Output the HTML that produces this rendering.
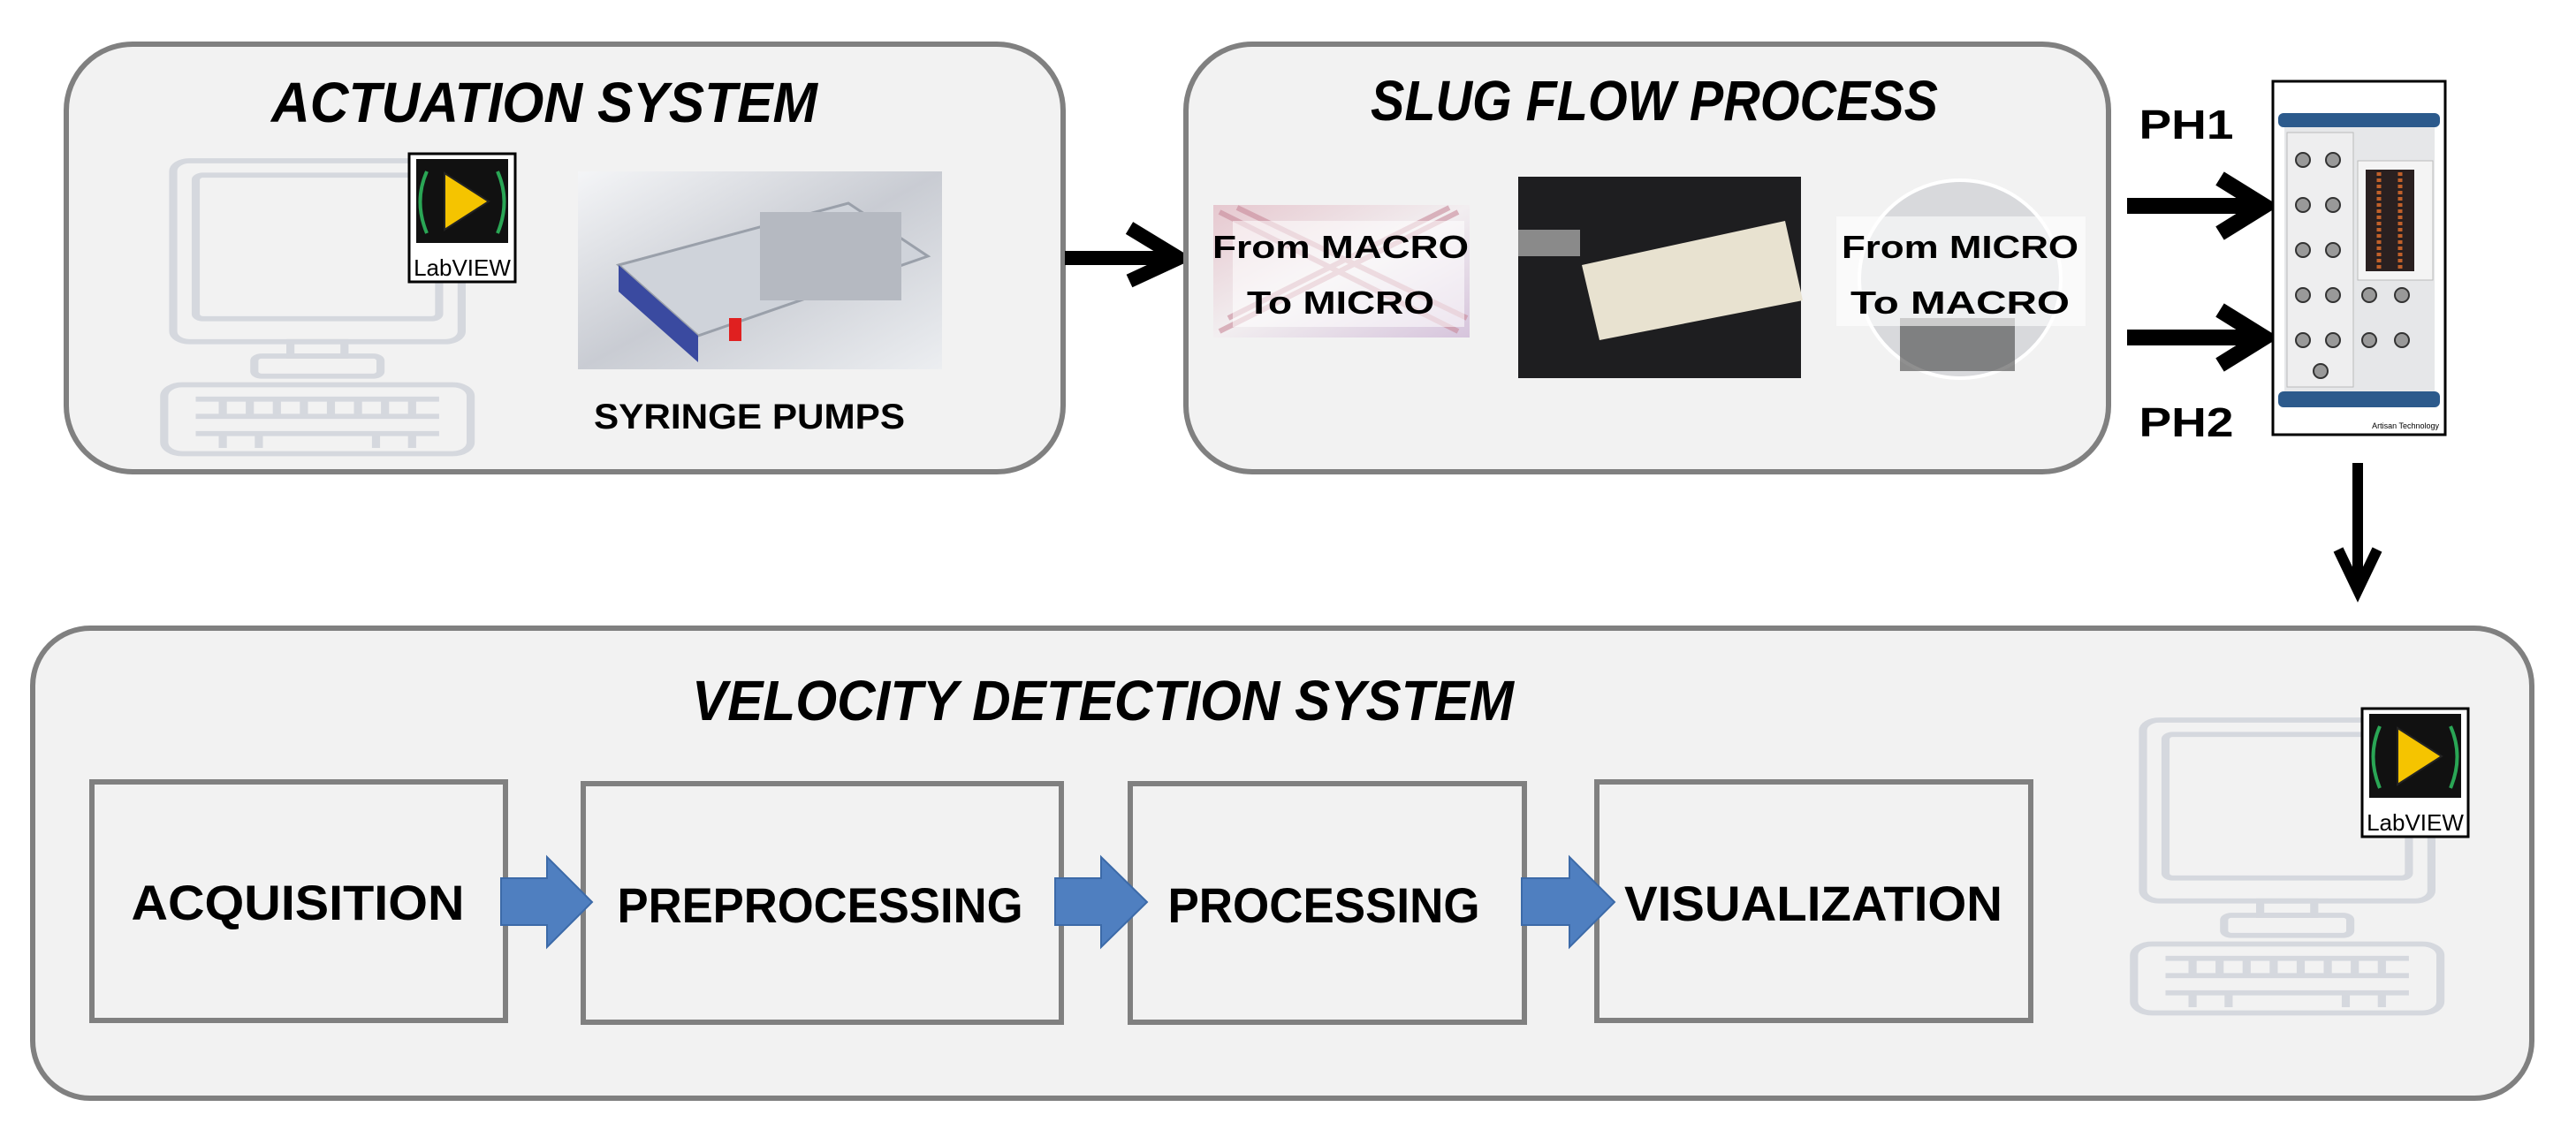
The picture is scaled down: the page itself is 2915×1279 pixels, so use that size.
<!DOCTYPE html>
<html><head><meta charset="utf-8"><style>
html,body{margin:0;padding:0;background:#fff;}
svg{display:block;}
text{font-family:"Liberation Sans",sans-serif;font-weight:bold;fill:#000;}
</style></head><body>
<svg width="2915" height="1279" viewBox="0 0 2915 1279" xmlns="http://www.w3.org/2000/svg">
<defs>
<linearGradient id="pump" x1="0" y1="0" x2="1" y2="1"><stop offset="0" stop-color="#f4f5f7"/><stop offset="0.5" stop-color="#c9ccd3"/><stop offset="1" stop-color="#eceef1"/></linearGradient>
<linearGradient id="tube" x1="0" y1="0" x2="1" y2="1"><stop offset="0" stop-color="#e6c8cf"/><stop offset="0.5" stop-color="#f2eef0"/><stop offset="1" stop-color="#d6c4dc"/></linearGradient>
<g id="lv">
<rect x="0" y="0" width="120" height="145" fill="#fff" stroke="#000" stroke-width="3"/>
<rect x="8" y="6" width="104" height="95" fill="#111"/>
<polygon points="40,22 40,86 90,54" fill="#f5c400" stroke="#222" stroke-width="2"/>
<path d="M20 20 Q5 54 20 90 M100 20 Q115 54 100 90" stroke="#2aa655" stroke-width="4" fill="none"/>
<text x="60" y="138" font-size="26" text-anchor="middle" style="font-weight:normal">LabVIEW</text>
</g>
<g id="pc" fill="none" stroke="#d5d8de" stroke-width="9">
<rect x="0" y="0" width="320" height="315" rx="18"/>
<rect x="25" y="25" width="270" height="250" rx="8"/>
<rect x="130" y="315" width="60" height="25"/>
<rect x="90" y="340" width="140" height="35" rx="8"/>
<rect x="-10" y="390" width="340" height="120" rx="20"/>
<path d="M25 415 H295 M25 445 H295 M25 475 H295 M55 415 V445 M85 415 V445 M115 415 V445 M145 415 V445 M175 415 V445 M205 415 V445 M235 415 V445 M265 415 V445 M55 475 V500 M95 475 V500 M225 475 V500 M265 475 V500"/>
</g>
</defs>

<!-- Actuation box -->
<rect x="75" y="50" width="1128" height="484" rx="75" fill="#f2f2f2" stroke="#808080" stroke-width="6"/>
<text x="616" y="138" font-size="64" font-style="italic" text-anchor="middle" textLength="618" lengthAdjust="spacingAndGlyphs">ACTUATION SYSTEM</text>
<g transform="translate(196 182) scale(1.02 0.65)"><use href="#pc"/></g>
<use href="#lv" x="463" y="174"/>
<rect x="654" y="194" width="412" height="224" fill="url(#pump)"/>
<polygon points="700,300 960,230 1050,290 790,380" fill="#cfd3da" stroke="#9aa0aa" stroke-width="3"/>
<polygon points="700,300 790,380 790,410 700,330" fill="#3a4aa0"/>
<rect x="860" y="240" width="160" height="100" fill="#b5b9c1"/>
<rect x="825" y="360" width="14" height="26" fill="#e02020"/>
<text x="848" y="485" font-size="40" text-anchor="middle" textLength="352" lengthAdjust="spacingAndGlyphs">SYRINGE PUMPS</text>

<!-- Arrow actuation -> slug -->
<line x1="1205" y1="292" x2="1332" y2="292" stroke="#000" stroke-width="16"/>
<polyline points="1278,258 1334,292 1278,318" fill="none" stroke="#000" stroke-width="16"/>

<!-- Slug box -->
<rect x="1342" y="50" width="1044" height="484" rx="75" fill="#f2f2f2" stroke="#808080" stroke-width="6"/>
<text x="1872" y="136" font-size="64" font-style="italic" text-anchor="middle" textLength="642" lengthAdjust="spacingAndGlyphs">SLUG FLOW PROCESS</text>
<rect x="1373" y="232" width="290" height="150" fill="url(#tube)"/>
<path d="M1380 240 L1650 375 M1400 235 L1660 360 M1380 375 L1650 240 M1390 360 L1640 235" stroke="#c98a9a" stroke-width="6" opacity="0.6"/>
<rect x="1395" y="250" width="262" height="120" fill="#fff" opacity="0.55"/>
<text x="1517" y="292" font-size="36" text-anchor="middle" textLength="290" lengthAdjust="spacingAndGlyphs">From MACRO</text>
<text x="1517" y="355" font-size="36" text-anchor="middle" textLength="212" lengthAdjust="spacingAndGlyphs">To MICRO</text>
<rect x="1718" y="200" width="320" height="228" fill="#1e1e20"/>
<polygon points="1790,300 2020,250 2040,340 1810,385" fill="#e8e2d0"/>
<rect x="1718" y="260" width="70" height="30" fill="#8a8a8a"/>
<ellipse cx="2218" cy="316" rx="114" ry="112" fill="#d8d9dc" stroke="#fff" stroke-width="4"/>
<rect x="2150" y="360" width="130" height="60" fill="#444" opacity="0.6"/>
<rect x="2078" y="245" width="282" height="124" fill="#fff" opacity="0.6"/>
<text x="2218" y="292" font-size="36" text-anchor="middle" textLength="268" lengthAdjust="spacingAndGlyphs">From MICRO</text>
<text x="2218" y="355" font-size="36" text-anchor="middle" textLength="248" lengthAdjust="spacingAndGlyphs">To MACRO</text>

<!-- PH labels and arrows -->
<text x="2474" y="157" font-size="46" text-anchor="middle" textLength="107" lengthAdjust="spacingAndGlyphs">PH1</text>
<text x="2474" y="494" font-size="46" text-anchor="middle" textLength="107" lengthAdjust="spacingAndGlyphs">PH2</text>
<line x1="2407" y1="233" x2="2555" y2="233" stroke="#000" stroke-width="18"/>
<polyline points="2512,202 2562,233 2512,264" fill="none" stroke="#000" stroke-width="18"/>
<line x1="2407" y1="382" x2="2555" y2="382" stroke="#000" stroke-width="18"/>
<polyline points="2512,351 2562,382 2512,413" fill="none" stroke="#000" stroke-width="18"/>

<!-- NI device -->
<rect x="2572" y="92" width="195" height="400" fill="#fff" stroke="#000" stroke-width="3"/>
<rect x="2578" y="128" width="183" height="16" rx="6" fill="#2c5a8c"/>
<rect x="2578" y="443" width="183" height="18" rx="6" fill="#2c5a8c"/>
<rect x="2585" y="144" width="170" height="299" fill="#e6e7e9"/>
<rect x="2588" y="150" width="75" height="288" fill="#eeeeef" stroke="#bbb"/>
<rect x="2668" y="182" width="85" height="135" fill="#f4f4f4" stroke="#bbb"/>
<rect x="2677" y="192" width="55" height="115" fill="#2a2020"/>
<path d="M2692 195 V305 M2716 195 V305" stroke="#c0602a" stroke-width="5" stroke-dasharray="4 3"/>
<g fill="#999" stroke="#333" stroke-width="2">
<circle cx="2606" cy="181" r="8"/><circle cx="2640" cy="181" r="8"/>
<circle cx="2606" cy="232" r="8"/><circle cx="2640" cy="232" r="8"/>
<circle cx="2606" cy="283" r="8"/><circle cx="2640" cy="283" r="8"/>
<circle cx="2606" cy="334" r="8"/><circle cx="2640" cy="334" r="8"/>
<circle cx="2606" cy="385" r="8"/><circle cx="2640" cy="385" r="8"/>
<circle cx="2626" cy="420" r="8"/>
<circle cx="2681" cy="334" r="8"/><circle cx="2718" cy="334" r="8"/>
<circle cx="2681" cy="385" r="8"/><circle cx="2718" cy="385" r="8"/>
</g>
<text x="2760" y="485" font-size="9" text-anchor="end" style="font-weight:normal" fill="#555">Artisan Technology</text>

<!-- Down arrow -->
<line x1="2668" y1="524" x2="2668" y2="665" stroke="#000" stroke-width="12"/>
<polyline points="2646,622 2668,668 2690,622" fill="none" stroke="#000" stroke-width="12"/>

<!-- Velocity box -->
<rect x="37" y="711" width="2828" height="532" rx="65" fill="#f2f2f2" stroke="#808080" stroke-width="6"/>
<text x="1248" y="815" font-size="64" font-style="italic" text-anchor="middle" textLength="930" lengthAdjust="spacingAndGlyphs">VELOCITY DETECTION SYSTEM</text>
<g transform="translate(2425 815) scale(1.02 0.65)"><use href="#pc"/></g>
<use href="#lv" x="2673" y="802"/>

<g fill="#f2f2f2" stroke="#808080" stroke-width="6">
<rect x="104" y="885" width="468" height="270"/>
<rect x="660" y="887" width="541" height="270"/>
<rect x="1279" y="887" width="446" height="270"/>
<rect x="1807" y="885" width="491" height="270"/>
</g>
<g fill="#4f7fc0" stroke="#3c6aa8" stroke-width="2">
<polygon points="567,994 619,994 619,970 670,1021 619,1072 619,1047 567,1047"/>
<polygon points="1194,994 1246,994 1246,970 1298,1021 1246,1072 1246,1047 1194,1047"/>
<polygon points="1722,994 1776,994 1776,970 1827,1021 1776,1072 1776,1047 1722,1047"/>
</g>
<text x="337" y="1041" font-size="56" text-anchor="middle" textLength="377" lengthAdjust="spacingAndGlyphs">ACQUISITION</text>
<text x="928" y="1044" font-size="56" text-anchor="middle" textLength="459" lengthAdjust="spacingAndGlyphs">PREPROCESSING</text>
<text x="1498" y="1044" font-size="56" text-anchor="middle" textLength="353" lengthAdjust="spacingAndGlyphs">PROCESSING</text>
<text x="2052" y="1042" font-size="56" text-anchor="middle" textLength="428" lengthAdjust="spacingAndGlyphs">VISUALIZATION</text>
</svg>
</body></html>
